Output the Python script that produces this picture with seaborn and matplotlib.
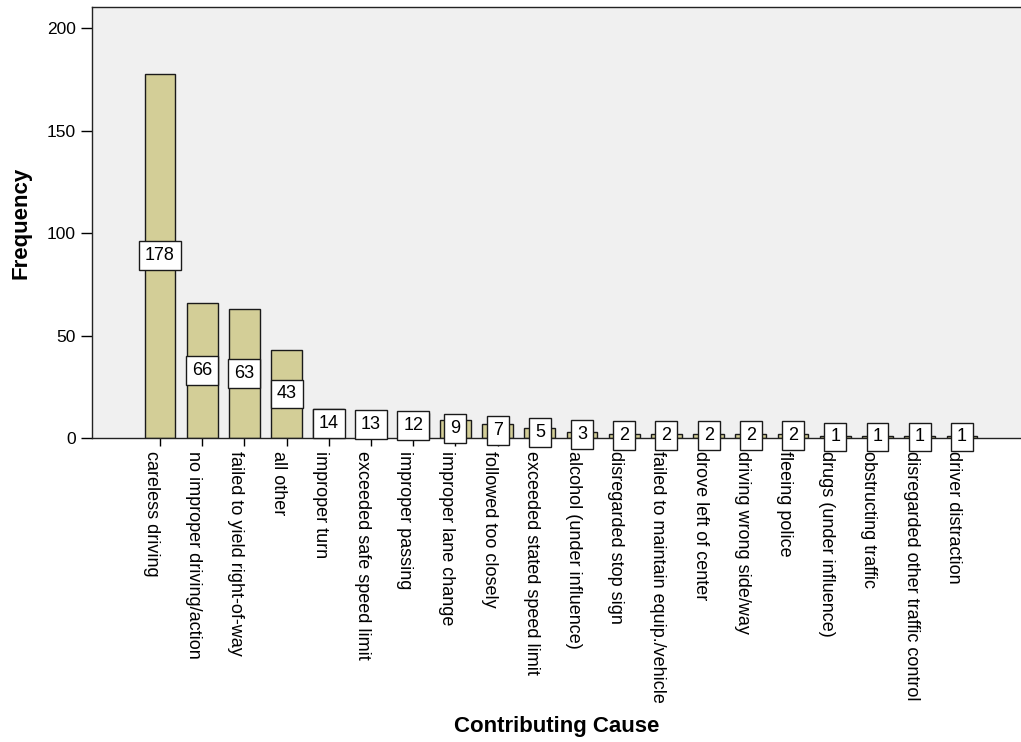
import matplotlib
matplotlib.use("Agg")
import matplotlib.pyplot as plt
import pandas as pd
import seaborn as sns

causes = [
    "careless driving", "no improper driving/action", "failed to yield right-of-way",
    "all other", "improper turn", "exceeded safe speed limit", "improper passing",
    "improper lane change", "followed too closely", "exceeded stated speed limit",
    "alcohol (under influence)", "disregarded stop sign", "failed to maintain equip./vehicle",
    "drove left of center", "driving wrong side/way", "fleeing police",
    "drugs (under influence)", "obstructing traffic", "disregarded other traffic control",
    "driver distraction",
]
counts = [178, 66, 63, 43, 14, 13, 12, 9, 7, 5, 3, 2, 2, 2, 2, 2, 1, 1, 1, 1]
y_ticks = [0, 50, 100, 150, 200]

df = pd.DataFrame({"cause": causes, "count": counts})

sns.set_style("ticks", {"axes.facecolor": "#F0F0F0", "axes.edgecolor": "#222222"})
plt.rcParams["font.family"] = ["Liberation Sans", "DejaVu Sans"]
plt.rcParams["text.color"] = "black"
plt.rcParams["axes.labelcolor"] = "black"
plt.rcParams["xtick.color"] = "black"
plt.rcParams["ytick.color"] = "black"

fig = plt.figure(figsize=(10.21, 7.42), dpi=100)
ax = fig.add_axes([92 / 1021, 1 - 438 / 742, 1 - 92 / 1021, (438 - 7) / 742])

sns.barplot(data=df, x="cause", y="count", color="#D3CE97", saturation=1,
            edgecolor="#1a1a1a", linewidth=1.0, width=0.73, ax=ax)

# value labels in white boxes, centred on each bar
for i, v in enumerate(counts):
    ax.text(i, v / 2, str(v), ha="center", va="center", fontsize=13, color="black",
            bbox=dict(boxstyle="square,pad=0.33", fc="white", ec="#1a1a1a", lw=1.0))

ax.set_xlim(-1.61, len(causes) - 1 + 1.4)
ax.set_ylim(0, 210.5)
ax.set_yticks(y_ticks)
ax.tick_params(axis="y", labelsize=12.5, length=8, width=1, colors="black")
ax.tick_params(axis="x", labelsize=13, length=6, width=1, colors="black")
ax.set_xticks(range(len(causes)))
ax.set_xticklabels(causes, rotation=-90, ha="right", va="top")
for s in ["top", "left", "bottom"]:
    ax.spines[s].set_visible(True)
    ax.spines[s].set_linewidth(1.0)
ax.spines["right"].set_visible(False)

ax.set_xlabel("Contributing Cause", fontsize=16, fontweight="bold", color="black")
ax.set_ylabel("Frequency", fontsize=16, fontweight="bold", color="black")
ax.xaxis.set_label_coords(0.5, -0.645)
ax.yaxis.set_label_coords(-0.065, 0.5)

fig.savefig("out.png", dpi=100)
